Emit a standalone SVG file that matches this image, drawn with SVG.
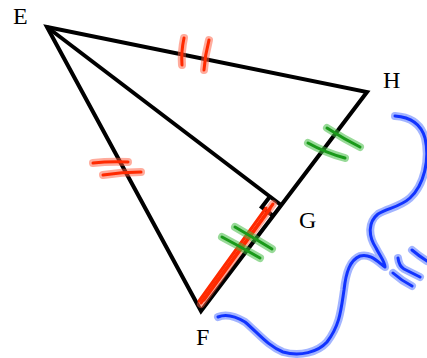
<svg xmlns="http://www.w3.org/2000/svg" width="427" height="358" viewBox="0 0 427 358">
<style>
.lbl{font-family:"Liberation Serif","Times New Roman",serif;font-size:24px;fill:#000}
.edge{fill:none;stroke:#000;stroke-width:4;stroke-linejoin:miter;stroke-linecap:butt}
.rh{fill:none;stroke:#ff5a3c;stroke-opacity:.5;stroke-width:8;stroke-linecap:round;stroke-linejoin:round}
.rc{fill:none;stroke:#ff2a00;stroke-width:3;stroke-linecap:round;stroke-linejoin:round}
.gh{fill:none;stroke:#44bb44;stroke-opacity:.55;stroke-width:8;stroke-linecap:round}
.gc{fill:none;stroke:#1a9a1a;stroke-width:3;stroke-linecap:round}
.bh{fill:none;stroke:#5577ff;stroke-opacity:.55;stroke-width:8;stroke-linecap:round;stroke-linejoin:round}
.bc{fill:none;stroke:#1133ff;stroke-width:3;stroke-linecap:round;stroke-linejoin:round}
</style>
<g id="connectors">
<path class="edge" d="M47,27 L367,92 L201,311 Z"/>
<path class="edge" d="M47,27 L281,205"/>
<path class="edge" stroke-width="3" d="M270,196.5 L261.8,207.2 L272.5,215.3"/>
</g>
<g id="highlight-FG">
<path class="rh" stroke-width="13" d="M201,304 L273,204"/>
<path class="rc" stroke-width="9" stroke="#ff3a14" d="M201,303 L273,204"/>
<path class="rc" stroke-width="1.5" stroke="#ff7050" d="M204,300 L270,209 M199,301 L266,208"/>
</g>
<g id="ticks-EH">
<path class="rh" d="M184,38 Q181,52 182,65 M209,40 Q205,55 204,70"/>
<path class="rc" d="M184,38 Q181,52 182,65 M209,40 Q205,55 204,70"/>
</g>
<g id="ticks-EF">
<path class="rh" d="M93,163 Q110,161 128,162 M103,175 Q122,172 141,172"/>
<path class="rc" d="M93,163 Q110,161 128,162 M103,175 Q122,172 141,172"/>
</g>
<g id="ticks-FG">
<path class="gh" d="M235,227 Q254,238 272,249 M222,237 Q241,247 260,258"/>
<path class="gc" d="M235,227 Q254,238 272,249 M222,237 Q241,247 260,258"/>
</g>
<g id="ticks-GH">
<path class="gh" d="M327,128 Q344,139 360,147 M308,143 Q326,153 345,158"/>
<path class="gc" d="M327,128 Q344,139 360,147 M308,143 Q326,153 345,158"/>
</g>
<g id="blue-curve">
<path class="bh" d="M395,116 C410,117 421,124 425,138 C430,160 424,185 410,198 C400,207 388,208 378,214 C368,222 368,236 376,248 C380,256 385,262 385,267 C378,262 370,253 360,256 C350,260 346,272 344,290 C341,310 340,325 327,342 C318,352 300,357 283,352 C268,346 258,333 245,322 C235,316 225,314 218,317"/>
<path class="bc" d="M395,116 C410,117 421,124 425,138 C430,160 424,185 410,198 C400,207 388,208 378,214 C368,222 368,236 376,248 C380,256 385,262 385,267 C378,262 370,253 360,256 C350,260 346,272 344,290 C341,310 340,325 327,342 C318,352 300,357 283,352 C268,346 258,333 245,322 C235,316 225,314 218,317"/>
</g>
<g id="blue-strokes">
<path class="bh" d="M398,258 Q399,266 404,269 Q412,273 420,277 M393,273 Q402,281 412,286 M412,250 Q419,256 427,261"/>
<path class="bc" d="M398,258 Q399,266 404,269 Q412,273 420,277 M393,273 Q402,281 412,286 M412,250 Q419,256 427,261"/>
</g>
<g id="node-E"><text class="lbl" x="13" y="24">E</text></g>
<g id="node-H"><text class="lbl" x="383" y="88">H</text></g>
<g id="node-G"><text class="lbl" x="299" y="228">G</text></g>
<g id="node-F"><text class="lbl" x="196" y="345">F</text></g>
</svg>
